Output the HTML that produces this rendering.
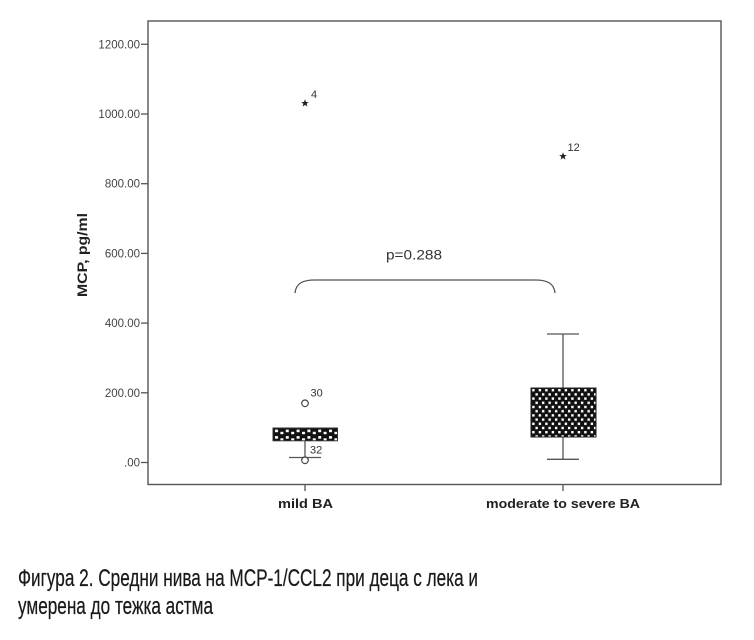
<!DOCTYPE html>
<html><head><meta charset="utf-8"><style>
html,body{margin:0;padding:0;background:#fff;}
svg{display:block;}
</style></head><body>
<svg width="754" height="640" viewBox="0 0 754 640" xmlns="http://www.w3.org/2000/svg">
<defs>
<pattern id="chk" patternUnits="userSpaceOnUse" x="531" y="388" width="6.5" height="8.4">
<rect width="6.5" height="8.4" fill="#111"/>
<rect x="1.2" y="1" width="2.4" height="2.4" fill="#fff"/>
<rect x="4.45" y="5.2" width="2.4" height="2.4" fill="#fff"/>
<rect x="-2.05" y="5.2" width="2.4" height="2.4" fill="#fff"/>
</pattern>
<pattern id="chk1" patternUnits="userSpaceOnUse" x="273" y="428" width="10.8" height="6.5">
<rect width="10.8" height="6.5" fill="#111"/>
<rect x="2" y="1.6" width="3" height="2.6" fill="#fff"/>
<rect x="7.4" y="3.8" width="3" height="2.4" fill="#fff"/>
</pattern>
</defs>
<rect width="754" height="640" fill="#fff"/>
<!-- frame -->
<rect x="148" y="21" width="573" height="463.5" fill="none" stroke="#555" stroke-width="1.4"/>
<!-- y ticks -->
<g stroke="#555" stroke-width="1.3">
<line x1="141" y1="44.3" x2="148" y2="44.3"/>
<line x1="141" y1="114" x2="148" y2="114"/>
<line x1="141" y1="183.7" x2="148" y2="183.7"/>
<line x1="141" y1="253.4" x2="148" y2="253.4"/>
<line x1="141" y1="323.1" x2="148" y2="323.1"/>
<line x1="141" y1="392.8" x2="148" y2="392.8"/>
<line x1="141" y1="462.5" x2="148" y2="462.5"/>
<line x1="305" y1="484" x2="305" y2="491"/>
<line x1="563" y1="484" x2="563" y2="491"/>
</g>
<g font-family="Liberation Sans, Arial, sans-serif" font-size="11.5" fill="#444" text-anchor="end">
<text x="140" y="48.3">1200.00</text>
<text x="140" y="118">1000.00</text>
<text x="140" y="187.7">800.00</text>
<text x="140" y="257.4">600.00</text>
<text x="140" y="327.1">400.00</text>
<text x="140" y="396.8">200.00</text>
<text x="140" y="466.5">.00</text>
</g>
<text transform="translate(87,255) rotate(-90)" text-anchor="middle" font-family="Liberation Sans, Arial, sans-serif" font-size="13.5" font-weight="bold" fill="#222" textLength="84" lengthAdjust="spacingAndGlyphs">MCP, pg/ml</text>
<g font-family="Liberation Sans, Arial, sans-serif" font-size="13" font-weight="bold" fill="#222" text-anchor="middle">
<text x="305.5" y="508" textLength="55" lengthAdjust="spacingAndGlyphs">mild BA</text>
<text x="563" y="508" textLength="154" lengthAdjust="spacingAndGlyphs">moderate to severe BA</text>
</g>
<!-- box 1 (mild) -->
<g stroke="#555" stroke-width="1.3" fill="none">
<line x1="305" y1="441" x2="305" y2="457.5"/>
<line x1="289" y1="457.5" x2="321" y2="457.5"/>
</g>
<rect x="273" y="428" width="64.5" height="12.8" fill="url(#chk1)" stroke="#333" stroke-width="1"/>
<circle cx="305" cy="460.3" r="3.3" fill="#fff" stroke="#444" stroke-width="1.2"/>
<circle cx="305" cy="403.3" r="3.3" fill="#fff" stroke="#444" stroke-width="1.2"/>
<!-- box 2 -->
<g stroke="#555" stroke-width="1.3" fill="none">
<line x1="563" y1="334" x2="563" y2="388"/>
<line x1="547" y1="334" x2="579" y2="334"/>
<line x1="563" y1="437" x2="563" y2="459.3"/>
<line x1="547" y1="459.3" x2="579" y2="459.3"/>
</g>
<rect x="531" y="388" width="65" height="49" fill="url(#chk)" stroke="#222" stroke-width="1"/>
<!-- stars -->
<polygon fill="#222" transform="translate(305,103.3)" points="0,-4 1,-1.3 3.8,-1.2 1.6,0.5 2.4,3.3 0,1.6 -2.4,3.3 -1.6,0.5 -3.8,-1.2 -1,-1.3"/>
<polygon fill="#222" transform="translate(563,156.3)" points="0,-4 1,-1.3 3.8,-1.2 1.6,0.5 2.4,3.3 0,1.6 -2.4,3.3 -1.6,0.5 -3.8,-1.2 -1,-1.3"/>
<g font-family="Liberation Sans, Arial, sans-serif" font-size="11" fill="#333">
<text x="311" y="98">4</text>
<text x="567.5" y="151">12</text>
<text x="310.5" y="396.5">30</text>
<text x="310" y="453.5">32</text>
</g>
<!-- brace -->
<path d="M295,293 C296,283 303,280 315,280 L535,280 C547,280 554,283 555,293" fill="none" stroke="#555" stroke-width="1.3"/>
<text x="414" y="259.5" text-anchor="middle" font-family="Liberation Sans, Arial, sans-serif" font-size="14" fill="#333" textLength="56" lengthAdjust="spacingAndGlyphs">p=0.288</text>
<!-- caption -->
<g font-family="Liberation Sans, 'DejaVu Sans', sans-serif" font-size="24" fill="#1a1a1a" stroke="#1a1a1a" stroke-width="0.25">
<text x="18" y="586" textLength="460" lengthAdjust="spacingAndGlyphs">Фигура 2. Средни нива на MCP-1/CCL2 при деца с лека и</text>
<text x="18" y="614" textLength="195" lengthAdjust="spacingAndGlyphs">умерена до тежка астма</text>
</g>
</svg>
</body></html>
